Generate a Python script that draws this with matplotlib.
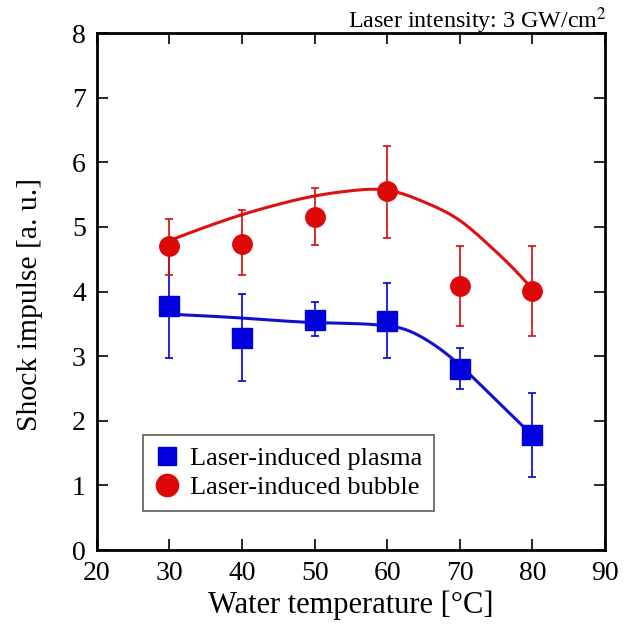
import numpy as np
import matplotlib
matplotlib.use("Agg")
import matplotlib.pyplot as plt
from matplotlib.lines import Line2D

plt.rcParams['font.family'] = ['Liberation Serif', 'DejaVu Serif']
plt.rcParams['mathtext.fontset'] = 'stix'

temperature = [30, 40, 50, 60, 70, 80]

plasma = [3.78, 3.28, 3.56, 3.55, 2.80, 1.78]
plasma_err_low = [0.81, 0.66, 0.25, 0.58, 0.31, 0.65]
plasma_err_high = [0.81, 0.68, 0.28, 0.58, 0.32, 0.65]

bubble = [4.70, 4.74, 5.16, 5.55, 4.09, 4.01]
bubble_err_low = [0.44, 0.48, 0.44, 0.72, 0.63, 0.70]
bubble_err_high = [0.42, 0.52, 0.45, 0.71, 0.61, 0.69]

# fitted guide curves
bubble_curve_x = [30, 35, 40, 45, 50, 55, 57, 60, 63, 65, 70, 74, 77, 80]
bubble_curve_y = [4.79, 5.00, 5.19, 5.35, 5.48, 5.56, 5.58, 5.57, 5.48, 5.39, 5.10, 4.72, 4.40, 4.04]

plasma_curve_x = [30, 40, 50, 60, 62, 64, 66, 68, 70, 72, 74, 76, 78, 80]
plasma_curve_y = [3.65, 3.59, 3.52, 3.47, 3.43, 3.34, 3.21, 3.05, 2.86, 2.65, 2.43, 2.21, 1.99, 1.78]

legend_labels = ['Laser-induced plasma', 'Laser-induced bubble']


def smooth(xs, ys, n=300):
    """Natural cubic spline through the read curve points (for drawing only)."""
    x = np.asarray(xs, float)
    y = np.asarray(ys, float)
    k = len(x)
    h = np.diff(x)
    A = np.zeros((k, k))
    r = np.zeros(k)
    A[0, 0] = A[-1, -1] = 1
    for i in range(1, k - 1):
        A[i, i - 1] = h[i - 1]
        A[i, i] = 2 * (h[i - 1] + h[i])
        A[i, i + 1] = h[i]
        r[i] = 3 * ((y[i + 1] - y[i]) / h[i] - (y[i] - y[i - 1]) / h[i - 1])
    c = np.linalg.solve(A, r)
    b = (y[1:] - y[:-1]) / h - h * (2 * c[:-1] + c[1:]) / 3
    d = (c[1:] - c[:-1]) / (3 * h)
    xx = np.linspace(x[0], x[-1], n)
    idx = np.clip(np.searchsorted(x, xx) - 1, 0, k - 2)
    t = xx - x[idx]
    yy = y[idx] + b[idx] * t + c[idx] * t ** 2 + d[idx] * t ** 3
    return xx, yy


fig = plt.figure(figsize=(6.25, 6.25), dpi=100)
ax = fig.add_axes([0.155, 0.12, 0.813, 0.827])

bx, by = smooth(bubble_curve_x, bubble_curve_y)
px, py = smooth(plasma_curve_x, plasma_curve_y)
ax.plot(bx, by, color='#dd1111', lw=2.2, zorder=2)
ax.plot(px, py, color='#1111cc', lw=2.2, zorder=2)

ax.errorbar(temperature, plasma, yerr=[plasma_err_low, plasma_err_high], fmt='s',
            color='#0000dd', ms=14, elinewidth=1.2, capsize=3, capthick=1.2, zorder=3)
ax.errorbar(temperature, bubble, yerr=[bubble_err_low, bubble_err_high], fmt='o',
            color='#dd0808', ms=14, elinewidth=1.2, capsize=3, capthick=1.2, zorder=3)

ax.set_xlim(20, 90)
ax.set_ylim(0, 8)
ax.set_xticks([20, 30, 40, 50, 60, 70, 80, 90])
ax.set_yticks(range(0, 9))
ax.tick_params(direction='in', length=8, width=1.2, top=True, right=True,
               labelsize=20, pad=8)
for s in ax.spines.values():
    s.set_linewidth(2)

ax.set_xlabel('Water temperature [°C]', fontsize=22, labelpad=3)
fig.text(0.048, 0.513, 'Shock impulse [a. u.]', rotation=90, ha='center', va='center',
         fontsize=21.3)

fig.text(0.971, 0.955, 'Laser intensity: 3 GW/cm$^2$', ha='right', va='baseline',
         fontsize=17.3)

handles = [Line2D([], [], ls='none', marker='s', color='#0000dd', ms=13),
           Line2D([], [], ls='none', marker='o', color='#dd0808', ms=16)]
leg = ax.legend(handles, legend_labels, loc='lower left', bbox_to_anchor=(0.0906, 0.0754),
                borderaxespad=0, fontsize=19, frameon=True, fancybox=False,
                edgecolor='#333333', handletextpad=0.44, borderpad=0.45,
                labelspacing=0.22, handlelength=0.9)
leg.get_frame().set_linewidth(1.2)

fig.savefig('out.png', dpi=100)
